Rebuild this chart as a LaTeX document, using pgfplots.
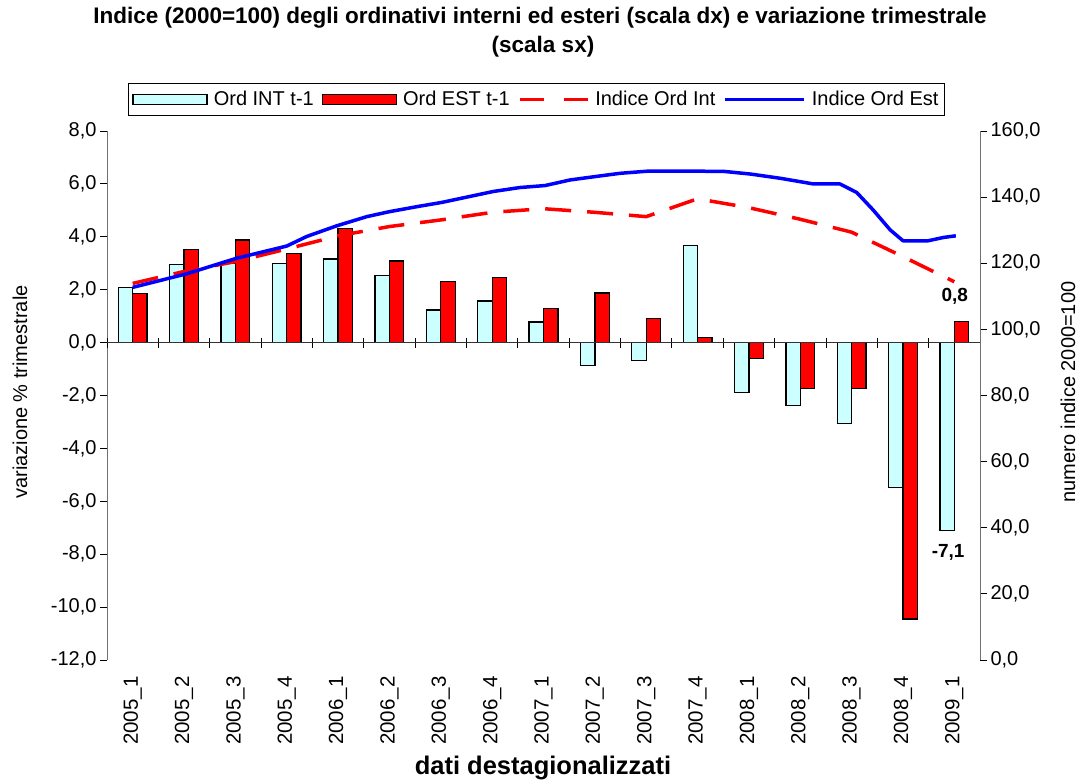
\documentclass[border=0pt]{standalone}
\usepackage{fontspec}
\setmainfont{Liberation Sans}
\usepackage{pgfplots}
\pgfplotsset{compat=1.18}
\definecolor{intc}{HTML}{CCFFFF}
\definecolor{estc}{HTML}{FF0000}
\definecolor{lblue}{HTML}{0000FF}
\definecolor{axgray}{HTML}{707070}
\pgfplotsset{
  base/.style={
    at={(107pt,122pt)}, anchor=south west, scale only axis,
    width=873pt, height=529pt, xmin=-0.5, xmax=16.5,
    clip=false,
  },
  numfmt/.style={
    /pgf/number format/fixed, /pgf/number format/fixed zerofill,
    /pgf/number format/precision=1, /pgf/number format/use comma,
    /pgf/number format/assume math mode=true,
  },
  barleg/.style={legend image code/.code={\draw[##1] (0pt,-5pt) rectangle (74pt,5pt);}},
  dashleg/.style={legend image code/.code={\draw[##1, dash pattern=on 24pt off 20pt] (0pt,0pt) -- (68pt,0pt);}},
  lineleg/.style={legend image code/.code={\draw[##1] (0pt,0pt) -- (79pt,0pt);}},
}
\begin{document}
\begin{tikzpicture}[x=1pt,y=1pt]
\path[use as bounding box] (0,0) rectangle (1082,782);
\node[font=\fontsize{22.5}{26}\selectfont\bfseries] at (540,764) {Indice (2000=100) degli ordinativi interni ed esteri (scala dx) e variazione trimestrale};
\node[font=\fontsize{22.5}{26}\selectfont\bfseries] at (543,735) {(scala sx)};
\node[font=\fontsize{20}{24}\selectfont, rotate=90] at (20,390) {variazione \% trimestrale};
\node[font=\fontsize{20}{24}\selectfont, rotate=90] at (1068,390) {numero indice 2000=100};
\node[font=\fontsize{25.5}{30}\selectfont\bfseries] at (543,14) {dati destagionalizzati};

% Axis A: bars, left scale
\begin{axis}[base,
  ymin=-12, ymax=8, ytick={-12,-10,...,8},
  axis y line*=left, axis x line=none,
  y axis line style={axgray, line width=1pt},
  tick align=outside, major tick length=7pt,
  ytick style={black, line width=0.8pt},
  yticklabel style={numfmt, font=\fontsize{20}{24}\selectfont},
]
\addplot[ybar, bar width=0.28, bar shift=-0.14, fill=intc, draw=black, line width=1.3pt] coordinates {
(0,2.08) (1,2.94) (2,3.00) (3,3.00) (4,3.16) (5,2.53) (6,1.23) (7,1.57) (8,0.78)
(9,-0.87) (10,-0.67) (11,3.67) (12,-1.88) (13,-2.39) (14,-3.05) (15,-5.47) (16,-7.10)};
\addplot[ybar, bar width=0.28, bar shift=0.14, fill=estc, draw=black, line width=1.3pt] coordinates {
(0,1.86) (1,3.52) (2,3.88) (3,3.37) (4,4.31) (5,3.08) (6,2.30) (7,2.45) (8,1.29)
(9,1.87) (10,0.92) (11,0.20) (12,-0.59) (13,-1.74) (14,-1.74) (15,-10.45) (16,0.80)};
\node[font=\fontsize{19}{22}\selectfont\bfseries] at (axis cs:16.01,1.74) {0,8};
\node[font=\fontsize{19}{22}\selectfont\bfseries] at (axis cs:15.88,-7.95) {-7,1};
\end{axis}

% Axis B: zero line with category ticks
\begin{axis}[base,
  ymin=-12, ymax=8,
  axis y line=none, axis x line=middle,
  x axis line style={-, black!80, line width=1pt},
  xtick={-0.5,0.5,...,16.5}, xticklabels={},
  tick align=center, major tick length=10pt,
  xtick style={black, line width=0.8pt},
]
\addplot[draw=none] coordinates {(0,0)};
\end{axis}

% Axis C: index lines, right scale, category labels
\begin{axis}[base,
  ymin=0, ymax=160, ytick={0,20,...,160},
  axis y line*=right, axis x line*=bottom,
  y axis line style={axgray, line width=1pt},
  x axis line style={draw=none},
  tick align=outside, major tick length=7pt,
  ytick style={black, line width=0.8pt},
  xtick={0,...,16}, xtick style={draw=none},
  xticklabels={2005\_1,2005\_2,2005\_3,2005\_4,2006\_1,2006\_2,2006\_3,2006\_4,2007\_1,2007\_2,2007\_3,2007\_4,2008\_1,2008\_2,2008\_3,2008\_4,2009\_1},
  xticklabel style={rotate=90, anchor=east, font=\fontsize{20.5}{24}\selectfont},
  xticklabel shift=6pt,
  yticklabel style={numfmt, font=\fontsize{20}{24}\selectfont},
  legend columns=4,
  legend style={at={(0.492,1.0596)}, anchor=center, draw=black, line width=0.8pt,
    font=\fontsize{20}{24}\selectfont, inner xsep=4pt, inner ysep=6pt,
    /tikz/every odd column/.append style={column sep=4pt},
    /tikz/every even column/.append style={column sep=6pt}},
]
\addlegendimage{fill=intc, draw=black, line width=1.3pt, barleg}
\addlegendentry{Ord INT t-1}
\addlegendimage{fill=estc, draw=black, line width=1.3pt, barleg}
\addlegendentry{Ord EST t-1}
\addplot[estc, dash pattern=on 26pt off 16pt, line width=3.5pt, dashleg] coordinates {
(0,113.9) (1,117.5) (2,120.5) (3,124.3) (4,128.3) (5,131.1) (6,133.1) (7,135.4) (8,136.5)
(9,135.4) (10,134.1) (11,139.5) (12,136.8) (13,133.3) (14,129.4) (15,122.0) (16,114.4)};
\addlegendentry{Indice Ord Int}
\addplot[lblue, line width=3.5pt, line join=round, lineleg] coordinates {
(0,112.7) (1.05,116.8) (2.02,121.5) (3.0,125.2) (3.39,128.1) (3.97,131.3) (4.56,134.1)
(5.0,135.6) (5.53,137.1) (6.02,138.4) (7.02,141.7) (7.54,142.9) (8.03,143.5) (8.52,145.2)
(9.0,146.2) (9.49,147.2) (10.07,147.9) (11.5,147.8) (12.02,147.0) (12.61,145.7) (13.25,144.0)
(13.77,144.0) (14.1,141.4) (14.42,136.1) (14.75,130.1) (15.0,126.8) (15.49,126.8)
(15.79,127.8) (16.03,128.3)};
\addlegendentry{Indice Ord Est}
\end{axis}
\end{tikzpicture}
\end{document}
